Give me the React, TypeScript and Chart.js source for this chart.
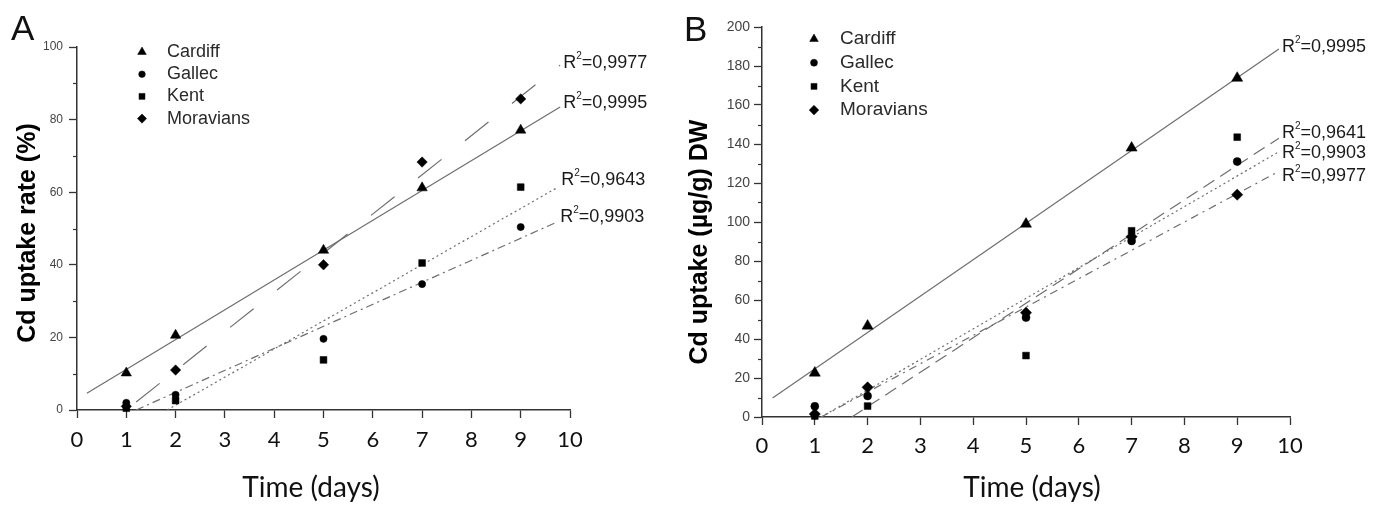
import React, { useEffect, useRef } from 'react';
import { Chart, registerables } from 'chart.js';
import { drawPoint } from 'chart.js/helpers';

Chart.register(...registerables);

// ---------- shared ----------
const days = [1, 2, 5, 7, 9];
const seriesNames = ['Cardiff', 'Gallec', 'Kent', 'Moravians'];
const pointStyles = ['triangle', 'circle', 'rect', 'rectRot'];

// ---------- Panel A : Cd uptake rate (%) ----------
const cardiffA = [10.2, 20.6, 44.0, 61.2, 77.1];
const gallecA = [2.0, 4.2, 19.6, 34.7, 50.4];
const kentA = [0.5, 2.6, 13.8, 40.5, 61.4];
const moraviansA = [1.0, 11.0, 40.0, 68.3, 85.7];

const cardiffFitA = [[0.2, 4.6], [9.8, 83.5]];
const gallecFitA = [[1.2, 0.0], [9.74, 51.8]];
const kentFitA = [[1.83, 0.0], [9.76, 61.4]];
const moraviansFitA = [[1.2, 2.2], [9.8, 95.0]];

const r2A = ['0,9995', '0,9903', '0,9643', '0,9977'];

// ---------- Panel B : Cd uptake (µg/g) DW ----------
const cardiffB = [22.6, 46.7, 99.0, 138.0, 173.8];
const gallecB = [5.5, 10.8, 51.0, 90.3, 131.0];
const kentB = [0.5, 5.6, 31.5, 95.5, 143.5];
const moraviansB = [1.5, 15.2, 53.5, 92.5, 114.0];

const cardiffFitB = [[0.2, 9.7], [9.79, 188.7]];
const gallecFitB = [[1.12, 0.0], [9.79, 136.0]];
const kentFitB = [[1.7, 0.0], [9.79, 143.0]];
const moraviansFitB = [[1.12, 0.0], [9.79, 126.0]];

const r2B = ['0,9995', '0,9903', '0,9641', '0,9977'];

// ---------- helpers ----------
function buildDatasets(values: number[][], fits: number[][][], r2: string[], radii: number[], dashes: number[][]) {
  const pts = values.map((vals, i) => ({
    label: seriesNames[i],
    data: days.map((d, j) => ({ x: d, y: vals[j] })),
    pointStyle: pointStyles[i],
    pointRadius: radii[i],
    pointHoverRadius: radii[i],
    backgroundColor: '#000',
    borderColor: '#000',
    borderWidth: 0.5,
    showLine: false,
    clip: false,
  }));
  const lines = fits.map((f, i) => ({
    label: 'fit ' + seriesNames[i],
    isFit: true,
    r2: r2[i],
    data: f.map(([x, y]) => ({ x, y })),
    showLine: true,
    pointRadius: 0,
    pointHoverRadius: 0,
    borderColor: '#6e6e6e',
    backgroundColor: '#6e6e6e',
    borderWidth: 1.2,
    borderDash: dashes[i],
    fill: false,
    tension: 0,
  }));
  return [...pts, ...lines];
}

const decorPlugin = {
  id: 'decor',
  afterDraw(chart: any, _args: any, o: any) {
    const { ctx, chartArea } = chart;
    const xs = chart.scales.x;
    const ys = chart.scales.y;
    ctx.save();
    // minor ticks on y axis
    ctx.strokeStyle = '#333';
    ctx.lineWidth = 1.2;
    for (let v = o.minorStart; v < ys.max; v += o.majorStep) {
      const py = Math.round(ys.getPixelForValue(v)) + 0.5;
      ctx.beginPath();
      ctx.moveTo(chartArea.left, py);
      ctx.lineTo(chartArea.left - 4, py);
      ctx.stroke();
    }
    // panel letter
    ctx.fillStyle = '#111';
    ctx.font = '35px "Liberation Sans", Arial, sans-serif';
    ctx.textAlign = 'left';
    ctx.textBaseline = 'alphabetic';
    ctx.fillText(o.letter, o.letterX, o.letterY);

    // x title
    ctx.font = '28px Lato, "Open Sans", sans-serif';
    ctx.textAlign = 'center';
    ctx.textBaseline = 'middle';
    ctx.fillStyle = '#111';
    ctx.fillText(o.xTitle, o.xTitleX, o.xTitleY);

    // y title
    ctx.save();
    ctx.translate(o.yTitleX, o.yTitleY);
    ctx.rotate(-Math.PI / 2);
    ctx.font = 'bold 25px "Liberation Sans", Arial, sans-serif';
    ctx.fillStyle = '#000';
    ctx.fillText(o.yTitle, 0, 0);
    ctx.restore();

    // legend
    const ds = chart.data.datasets.filter((d: any) => !d.isFit);
    ds.forEach((d: any, i: number) => {
      const ly = o.legendY + i * o.legendGap;
      ctx.fillStyle = '#000';
      ctx.strokeStyle = '#000';
      ctx.lineWidth = 0.5;
      drawPoint(ctx, { pointStyle: d.pointStyle, rotation: 0, radius: o.legendRadii[i], borderWidth: 0.5 }, o.legendX, ly);
      ctx.fillStyle = '#2a2a2a';
      ctx.font = o.legendFont + 'px "Liberation Sans", Arial, sans-serif';
      ctx.textAlign = 'left';
      ctx.textBaseline = 'middle';
      ctx.fillText(d.label, o.legendTextX, ly);
    });

    // R² labels at the end of each fit line
    const fits = chart.data.datasets.filter((d: any) => d.isFit);
    fits.forEach((d: any, i: number) => {
      const end = d.data[d.data.length - 1];
      let px = xs.getPixelForValue(end.x) + 3;
      const py = ys.getPixelForValue(end.y) + o.labelDy[i];
      ctx.fillStyle = '#1a1a1a';
      ctx.textAlign = 'left';
      ctx.textBaseline = 'middle';
      ctx.font = '18px "Liberation Sans", Arial, sans-serif';
      ctx.fillText('R', px, py);
      px += ctx.measureText('R').width;
      ctx.font = '10px "Liberation Sans", Arial, sans-serif';
      ctx.fillText('2', px, py - 7);
      px += ctx.measureText('2').width;
      ctx.font = '18px "Liberation Sans", Arial, sans-serif';
      ctx.fillText('=' + d.r2, px, py);
    });
    ctx.restore();
  },
};

function makeConfig(p: any) {
  return {
    type: 'scatter',
    data: { datasets: p.datasets },
    plugins: [decorPlugin],
    options: {
      responsive: false,
      maintainAspectRatio: false,
      animation: false,
      events: [],
      layout: { padding: { left: 0, top: p.top, right: p.right, bottom: 0 } },
      plugins: {
        legend: { display: false },
        tooltip: { enabled: false },
        decor: p.decor,
      },
      scales: {
        x: {
          type: 'linear',
          min: 0,
          max: 10,
          afterFit: (s: any) => { s.height = p.xHeight; },
          ticks: {
            stepSize: 1,
            color: '#111',
            font: { family: 'Lato, "Open Sans", sans-serif', size: 22 },
            padding: p.xPad,
            maxRotation: 0,
            autoSkip: false,
          },
          grid: { display: true, drawOnChartArea: false, drawTicks: true, tickLength: 8, tickColor: '#333', tickWidth: 1.3 },
          border: { display: true, color: '#333', width: 1.5 },
        },
        y: {
          type: 'linear',
          min: 0,
          max: p.yMax,
          afterFit: (s: any) => { s.width = p.yWidth; },
          ticks: {
            stepSize: p.yStep,
            color: '#444',
            font: { family: '"Liberation Sans", Arial, sans-serif', size: p.yFont },
            padding: p.yPad,
          },
          grid: { display: true, drawOnChartArea: false, drawTicks: true, tickLength: 8, tickColor: '#333', tickWidth: 1.3 },
          border: { display: true, color: '#333', width: 1.5 },
        },
      },
    },
  };
}

const W_A = 680;
const W_B = 695;
const H = 505;

export default function App() {
  const refA = useRef<HTMLCanvasElement>(null);
  const refB = useRef<HTMLCanvasElement>(null);

  useEffect(() => {
    const chartA = new Chart(refA.current as any, makeConfig({
      datasets: buildDatasets(
        [cardiffA, gallecA, kentA, moraviansA],
        [cardiffFitA, gallecFitA, kentFitA, moraviansFitA],
        r2A,
        [6, 3.6, 4.8, 5.2],
        [[], [8, 4, 2, 4], [2, 3], [30, 30]]
      ),
      top: 47, right: W_A - 570, xHeight: H - 410, yWidth: 77,
      xPad: 9, yPad: 6, yMax: 100, yStep: 20, yFont: 12,
      decor: {
        minorStart: 10, majorStep: 20,
        letter: 'A', letterX: 11, letterY: 40,
        xTitle: 'Time (days)', xTitleX: 311, xTitleY: 488,
        yTitle: 'Cd uptake rate (%)', yTitleX: 28, yTitleY: 233,
        legendX: 142, legendTextX: 167, legendY: 52, legendGap: 22.2,
        legendRadii: [5, 3.3, 4.2, 4.6], legendFont: 18,
        labelDy: [-4, -5, -7, -2],
      },
    }) as any);

    const chartB = new Chart(refB.current as any, makeConfig({
      datasets: buildDatasets(
        [cardiffB, gallecB, kentB, moraviansB],
        [cardiffFitB, gallecFitB, kentFitB, moraviansFitB],
        r2B,
        [6.4, 4, 4.8, 5.6],
        [[], [2, 3], [13, 7], [8, 5, 2, 5]]
      ),
      top: 27, right: W_B - 610, xHeight: H - 417, yWidth: 82,
      xPad: 8, yPad: 4, yMax: 200, yStep: 20, yFont: 14,
      decor: {
        minorStart: 10, majorStep: 20,
        letter: 'B', letterX: 4, letterY: 41,
        xTitle: 'Time (days)', xTitleX: 1032 - 680, xTitleY: 488,
        yTitle: 'Cd uptake (µg/g) DW', yTitleX: 20, yTitleY: 242,
        legendX: 134, legendTextX: 160, legendY: 39, legendGap: 23.7,
        legendRadii: [5, 3.5, 4.2, 4.8], legendFont: 19,
        labelDy: [-2, 1, -5, 5],
      },
    }) as any);

    return () => {
      chartA.destroy();
      chartB.destroy();
    };
  }, []);

  return (
    <div style={{ position: 'fixed', left: 0, top: 0, width: 1375, height: H, background: '#fff', overflow: 'hidden' }}>
      <canvas ref={refA} width={W_A} height={H} style={{ position: 'absolute', left: 0, top: 0, width: W_A, height: H }} />
      <canvas ref={refB} width={W_B} height={H} style={{ position: 'absolute', left: 680, top: 0, width: W_B, height: H }} />
    </div>
  );
}
